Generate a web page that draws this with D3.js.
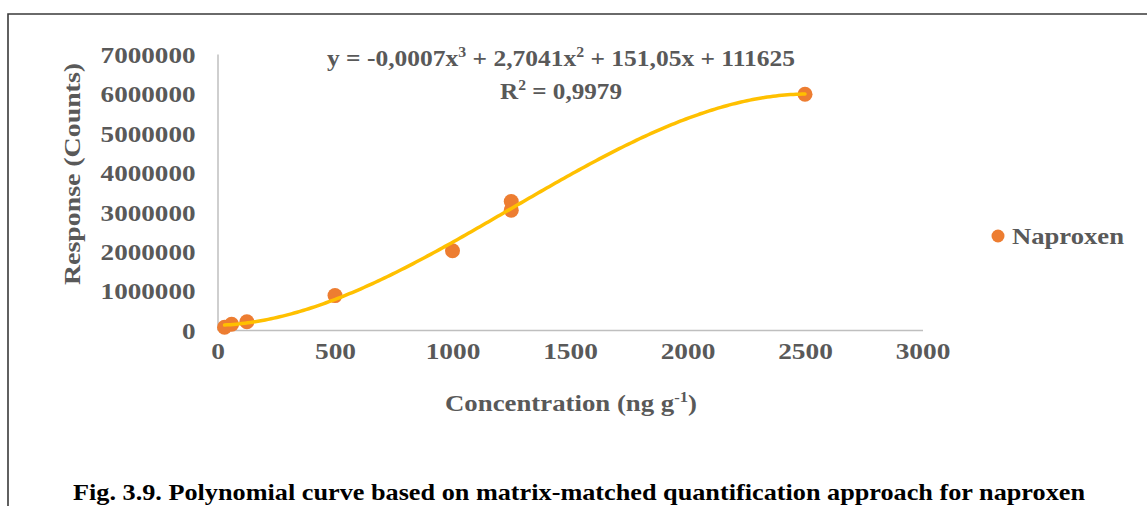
<!DOCTYPE html>
<html>
<head>
<meta charset="utf-8">
<script src="https://cdn.jsdelivr.net/npm/d3@7"></script>
<style>
  html, body { margin: 0; padding: 0; background: #fff; }
  svg { display: block; }
  text { font-family: "Liberation Serif", "Times New Roman", serif; font-weight: bold; }
</style>
</head>
<body>
<svg id="chart" width="1147" height="506"></svg>
<script>
// Calibration data: concentration (ng g-1) vs detector response (counts)
const concentrations = [30, 60, 125, 500, 1000, 1250, 1250, 2500];
const responses = [69000, 145000, 211000, 873000, 2010000, 3260000, 3040000, 5980000];

const xTicks = [0, 500, 1000, 1500, 2000, 2500, 3000];
const yTicks = [0, 1000000, 2000000, 3000000, 4000000, 5000000, 6000000, 7000000];

const seriesName = "Naproxen";
const equationText = ["y = -0,0007x", "3", " + 2,7041x", "2", " + 151,05x + 111625"];
const r2Text = ["R", "2", " = 0,9979"];
const captionText = "Fig. 3.9. Polynomial curve based on matrix-matched quantification approach for naproxen";

const W = 1147, H = 506;
const plot = { left: 217.5, right: 922.5, top: 54, bottom: 330 };
const labelColor = "#595959";

const svg = d3.select("#chart");
svg.append("rect").attr("width", W).attr("height", H).attr("fill", "#fff");

// outer frame (top and left edges)
svg.append("path")
  .attr("d", `M8,${H} L8,14 L${W},14`)
  .attr("fill", "none").attr("stroke", "#3a3a3a").attr("stroke-width", 1.6);

const x = d3.scaleLinear().domain([0, 3000]).range([plot.left, plot.right]);
const y = d3.scaleLinear().domain([0, 7000000]).range([plot.bottom, plot.top]);

// widen text horizontally by a factor, or to a fixed run length
function widen(sel, k) {
  sel.each(function () {
    const len = this.getComputedTextLength();
    d3.select(this).attr("textLength", len * k).attr("lengthAdjust", "spacingAndGlyphs");
  });
}
function widenTo(sel, w) {
  sel.attr("textLength", w).attr("lengthAdjust", "spacingAndGlyphs");
}

// axes
const xAxis = svg.append("g").attr("transform", `translate(0,${plot.bottom})`)
  .call(d3.axisBottom(x).tickValues(xTicks).tickSize(0).tickPadding(22).tickFormat(d3.format("d")));
const yAxis = svg.append("g").attr("transform", `translate(${plot.left},0)`)
  .call(d3.axisLeft(y).tickValues(yTicks).tickSize(0).tickPadding(22).tickFormat(d3.format("d")));
[xAxis, yAxis].forEach(g => {
  g.select(".domain").attr("stroke", "#bfbfbf").attr("stroke-width", 1.5);
  g.selectAll("text").attr("fill", labelColor).attr("font-size", 24)
    .style("font-family", "'Liberation Serif', serif").style("font-weight", "bold");
});
xAxis.selectAll("text").attr("dy", "0.71em").attr("y", 12);
yAxis.selectAll("text").attr("dy", "0.35em").attr("x", -22);
widen(xAxis.selectAll("text"), 1.14);
widen(yAxis.selectAll("text"), 1.13);

// cubic least-squares trendline through the calibration points
function polyFit(xs, ys, deg) {
  const s = 1000;
  const n = deg + 1;
  const A = Array.from({ length: n }, () => new Array(n + 1).fill(0));
  xs.forEach((xv, i) => {
    const t = xv / s;
    for (let r = 0; r < n; r++) {
      for (let c = 0; c < n; c++) A[r][c] += Math.pow(t, r + c);
      A[r][n] += Math.pow(t, r) * ys[i];
    }
  });
  for (let i = 0; i < n; i++) {
    let p = i;
    for (let k = i + 1; k < n; k++) if (Math.abs(A[k][i]) > Math.abs(A[p][i])) p = k;
    [A[i], A[p]] = [A[p], A[i]];
    for (let k = i + 1; k < n; k++) {
      const f = A[k][i] / A[i][i];
      for (let j = i; j <= n; j++) A[k][j] -= f * A[i][j];
    }
  }
  const coef = new Array(n).fill(0);
  for (let i = n - 1; i >= 0; i--) {
    let sum = A[i][n];
    for (let j = i + 1; j < n; j++) sum -= A[i][j] * coef[j];
    coef[i] = sum / A[i][i];
  }
  return xv => coef.reduce((acc, c, k) => acc + c * Math.pow(xv / s, k), 0);
}
const fit = polyFit(concentrations, responses, 3);
const [xmin, xmax] = d3.extent(concentrations);
const curve = d3.range(0, 201).map(i => {
  const xv = xmin + (xmax - xmin) * i / 200;
  return [xv, fit(xv)];
});

// data points
svg.append("g").selectAll("circle")
  .data(concentrations.map((c, i) => [c, responses[i]]))
  .join("circle")
  .attr("cx", d => x(d[0])).attr("cy", d => y(d[1]))
  .attr("r", 7.5).attr("fill", "#ED7D31");

svg.append("path")
  .datum(curve)
  .attr("d", d3.line().x(d => x(d[0])).y(d => y(d[1])))
  .attr("fill", "none").attr("stroke", "#FFC000").attr("stroke-width", 3.5)
  .attr("stroke-linecap", "round");

// label with superscript runs (odd-indexed parts)
function richText(parts, ax, ay, size, anchor) {
  const t = svg.append("text").attr("x", ax).attr("y", ay).attr("text-anchor", anchor || "middle")
    .attr("font-size", size).attr("fill", labelColor);
  parts.forEach((p, i) => {
    const sup = i % 2 === 1;
    t.append("tspan").text(p)
      .attr("font-size", sup ? size * 0.62 : size)
      .attr("dy", sup ? -size * 0.4 : (i > 0 ? size * 0.4 : 0));
  });
  return t;
}

// equation label
widenTo(richText(equationText, 327, 66, 23, "start"), 468);
widenTo(richText(r2Text, 500, 99, 23, "start"), 122);

// axis titles
widenTo(richText(["Concentration (ng g", "-1", ")"], 445, 411, 23, "start"), 252);
widenTo(svg.append("text")
  .attr("transform", "translate(80,285) rotate(-90)")
  .attr("text-anchor", "start").attr("font-size", 23).attr("fill", labelColor)
  .text("Response (Counts)"), 222);

// legend
svg.append("circle").attr("cx", 998).attr("cy", 236).attr("r", 6.5).attr("fill", "#ED7D31");
widenTo(svg.append("text").attr("x", 1012).attr("y", 244).attr("font-size", 23)
  .attr("fill", labelColor).text(seriesName), 112);

// caption
widenTo(svg.append("text").attr("x", 73).attr("y", 500).attr("text-anchor", "start")
  .attr("font-size", 23).attr("fill", "#000").text(captionText), 1012);
</script>
</body>
</html>
